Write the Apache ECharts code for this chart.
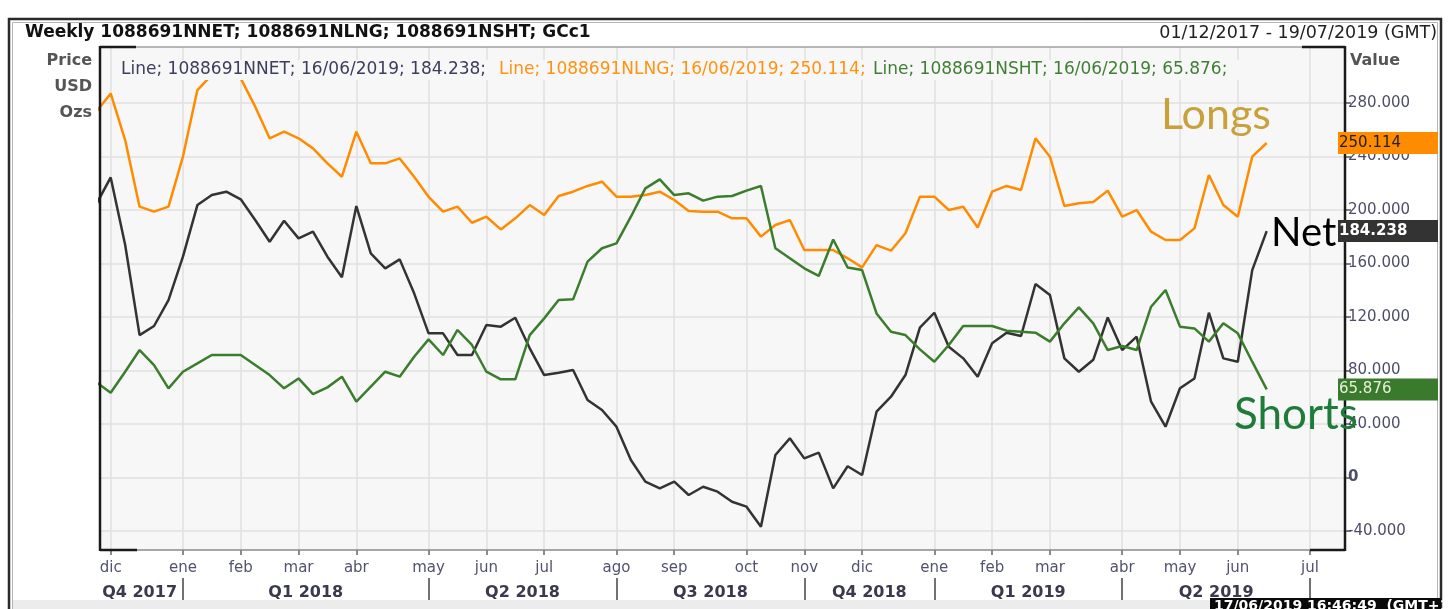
<!DOCTYPE html>
<html>
<head>
<meta charset="utf-8">
<script src="https://cdn.jsdelivr.net/npm/echarts@6/dist/echarts.min.js"></script>
<style>
  html, body { margin: 0; padding: 0; background: #ffffff; }
  #chart { width: 1453px; height: 609px; }
</style>
</head>
<body>
<div id="chart"></div>
<script>
// Weekly COT positions (thousand oz), one value per Sunday from 26/11/2017 to 16/06/2019.
// Week offsets are counted from 03/12/2017 (offset 0), so the first entry sits at offset -1.
const firstWeekOffset = -1;

const longs = [
  273.6, 287.2, 252.3, 202.5, 198.8, 202.5, 240.0, 289.7, 301.0, 302.0,
  298.4, 277.3, 253.6, 258.6, 253.6, 246.1, 234.9, 224.9, 258.6, 234.9,
  234.9, 238.6, 224.9, 209.9, 198.8, 202.5, 190.5, 195.0, 185.5, 193.8,
  203.7, 196.3, 210.5, 213.7, 218.0, 221.2, 210.0, 210.0, 211.2, 213.7,
  207.5, 199.3, 198.8, 198.8, 193.8, 193.8, 180.1, 188.8, 192.5, 170.1,
  170.1, 170.1, 163.9, 157.1, 173.8, 169.6, 182.6, 210.0, 210.0, 200.0,
  202.5, 187.0, 213.7, 218.0, 215.0, 253.6, 239.9, 203.0, 205.0, 206.0,
  214.5, 195.0, 200.0, 183.8, 177.6, 177.6, 186.3, 226.2, 203.7, 195.0,
  239.9, 250.114
];

const net = [
  204.3, 224.4, 174.0, 106.5, 113.3, 132.7, 165.1, 203.7, 211.2, 213.7,
  208.0, 192.5, 176.3, 192.0, 178.8, 183.8, 165.1, 149.7, 203.0, 167.6,
  156.4, 163.1, 137.7, 107.8, 107.8, 91.6, 91.6, 114.0, 112.8, 119.5,
  96.6, 76.6, 78.4, 80.4, 58.0, 50.5, 38.0, 13.1, -3.1, -8.1,
  -3.1, -13.1, -6.9, -10.6, -18.1, -21.8, -36.8, 16.8, 29.3, 14.3,
  18.6, -8.1, 8.4, 1.9, 49.2, 60.4, 76.6, 112.0, 123.2, 97.8,
  89.1, 75.4, 100.3, 108.3, 105.8, 144.7, 136.4, 89.1, 79.1, 88.0,
  119.7, 95.3, 105.3, 56.7, 38.0, 66.7, 74.1, 123.2, 89.1, 86.6,
  155.1, 184.238
];

const shorts = [
  71.2, 63.4, 79.1, 95.3, 84.1, 66.7, 79.1, 85.3, 91.6, 91.6,
  91.6, 84.1, 76.6, 66.7, 74.1, 62.4, 67.4, 75.4, 56.7, 67.9,
  79.1, 75.4, 90.3, 103.3, 91.6, 110.3, 99.1, 79.1, 73.4, 73.4,
  106.5, 119.0, 132.7, 133.2, 161.4, 171.4, 175.1, 195.0, 216.2, 222.9,
  211.2, 212.5, 207.0, 210.0, 210.5, 214.5, 218.0, 171.4, 163.9, 156.4,
  150.7, 178.0, 157.0, 155.1, 122.7, 109.0, 106.5, 95.8, 86.6, 99.1,
  113.3, 113.3, 113.3, 109.8, 109.0, 108.3, 101.6, 115.3, 127.2, 115.3,
  95.3, 98.3, 95.3, 127.7, 140.2, 112.8, 111.5, 101.6, 115.3, 107.8,
  86.6, 65.876
];

// Month ticks: week offset of the first Sunday of each month, with its Spanish label
const monthTickWeeks = [0, 5, 9, 13, 17, 22, 26, 30, 35, 39, 44, 48, 52, 57, 61, 65, 70, 74, 78, 83];
const monthLabels = ['dic', 'ene', 'feb', 'mar', 'abr', 'may', 'jun', 'jul', 'ago', 'sep',
                     'oct', 'nov', 'dic', 'ene', 'feb', 'mar', 'abr', 'may', 'jun', 'jul'];

// Quarter row: separators and label anchors (week offsets)
const quarterBounds = [5, 22, 35, 48, 57, 70, 83];
const quarterCenters = [2, 13.5, 28.5, 41.5, 52.5, 63.5, 76.5];
const quarterLabels = ['Q4 2017', 'Q1 2018', 'Q2 2018', 'Q3 2018', 'Q4 2018', 'Q1 2019', 'Q2 2019'];

// Value axis ticks
const valueTicks = [-40, 0, 40, 80, 120, 160, 200, 240, 280];

const seriesNames = ['1088691NNET', '1088691NLNG', '1088691NSHT'];
const lastDate = '16/06/2019';

const AXIS_FONT = 'DejaVu Sans';
const C_NET = '#333333';
const C_LONG = '#ff8c00';
const C_SHORT = '#3a7d2c';

const toXY = (arr) => arr.map((v, i) => [firstWeekOffset + i, v]);

const chart = echarts.init(document.getElementById('chart'), null, { renderer: 'canvas' });

const xMin = -0.74, xMax = 85.42;

const option = {
  backgroundColor: '#ffffff',
  animation: false,
  grid: {
    left: 100, right: 108, top: 47, bottom: 59,
    show: true, backgroundColor: '#f7f7f7', borderWidth: 0
  },
  xAxis: [
    {
      type: 'value', min: xMin, max: xMax, position: 'bottom',
      axisLine: { show: false, onZero: false },
      axisTick: { show: true, customValues: monthTickWeeks, length: 5, lineStyle: { color: '#666', width: 1.5 } },
      axisLabel: {
        customValues: monthTickWeeks, margin: 11, hideOverlap: false,
        color: '#52526e', fontFamily: AXIS_FONT, fontSize: 15,
        formatter: (v) => monthLabels[monthTickWeeks.indexOf(v)]
      },
      splitLine: { show: true, lineStyle: { color: '#e0e0e0', width: 1.5 } }
    },
    {
      type: 'value', min: xMin, max: xMax, position: 'bottom', offset: 28,
      axisLine: { show: false, onZero: false },
      axisTick: { show: true, customValues: quarterBounds, length: 24, lineStyle: { color: '#444', width: 1.5 } },
      axisLabel: {
        customValues: quarterCenters, margin: 7, hideOverlap: false,
        color: '#3a3a4e', fontFamily: AXIS_FONT, fontWeight: 'bold', fontSize: 16,
        formatter: (v) => quarterLabels[quarterCenters.indexOf(v)]
      },
      splitLine: { show: false }
    }
  ],
  yAxis: {
    type: 'value', position: 'right', min: -54.2, max: 321.9,
    axisLine: { show: false, onZero: false },
    axisTick: { show: true, customValues: valueTicks, length: 6, lineStyle: { color: '#555', width: 1.5 } },
    axisLabel: {
      customValues: valueTicks, margin: 3, hideOverlap: false,
      color: '#4d4d6b', fontFamily: AXIS_FONT, fontSize: 15,
      formatter: (v) => v === 0 ? '{z|0}' : v.toFixed(3),
      rich: { z: { fontWeight: 'bold', fontFamily: AXIS_FONT, fontSize: 15, color: '#4d4d6b' } }
    },
    splitLine: { show: true, lineStyle: { color: '#e0e0e0', width: 1.5 } }
  },
  series: [
    { name: seriesNames[0], type: 'line', data: toXY(net), showSymbol: false, clip: true,
      lineStyle: { color: C_NET, width: 2.5 }, z: 3 },
    { name: seriesNames[1], type: 'line', data: toXY(longs), showSymbol: false, clip: true,
      lineStyle: { color: C_LONG, width: 2.5 }, z: 3 },
    { name: seriesNames[2], type: 'line', data: toXY(shorts), showSymbol: false, clip: true,
      lineStyle: { color: C_SHORT, width: 2.5 }, z: 3 }
  ]
};

chart.setOption(option);

// Decorations: frame, headings, latest-value flags and series captions
function text(x, y, str, o) {
  return {
    type: 'text', z: 100, silent: true,
    style: Object.assign({
      x: x, y: y, text: str, fontFamily: AXIS_FONT, fontSize: 15, fill: '#222',
      align: 'left', verticalAlign: 'middle'
    }, o || {})
  };
}
function line(x1, y1, x2, y2, color, w) {
  return { type: 'line', z: 90, silent: true, shape: { x1, y1, x2, y2 }, style: { stroke: color, lineWidth: w } };
}

const fmt = (v) => v.toFixed(3);
const lastNet = net[net.length - 1];
const lastLong = longs[longs.length - 1];
const lastShort = shorts[shorts.length - 1];

const graphics = [];

// outer frame and footer band
graphics.push({ type: 'rect', z: 80, silent: true, shape: { x: 12, y: 600, width: 1428, height: 12 }, style: { fill: '#ececec' } });
graphics.push({ type: 'rect', z: 81, silent: true, shape: { x: 9, y: 19, width: 1432, height: 620 }, style: { fill: null, stroke: '#2a2a2a', lineWidth: 2.5 } });
graphics.push({ type: 'rect', z: 81, silent: true, shape: { x: 12.5, y: 22.5, width: 1425, height: 620 }, style: { fill: null, stroke: '#b5b5b5', lineWidth: 1 } });

// plot border
graphics.push(line(100, 47, 1345, 47, '#a0a0a0', 1.5));
graphics.push(line(100, 550, 1345, 550, '#8a8a8a', 1.5));
graphics.push(line(100, 47, 136, 47, '#1a1a1a', 2.5));
graphics.push(line(1302, 47, 1345, 47, '#1a1a1a', 2.5));
graphics.push(line(100, 550, 137, 550, '#1a1a1a', 2.5));
graphics.push(line(1310, 550, 1345, 550, '#1a1a1a', 2.5));
graphics.push(line(100, 46, 100, 551, '#1a1a1a', 2.5));
graphics.push(line(1345, 46, 1345, 551, '#1a1a1a', 2.5));

// headings
graphics.push(text(25, 33, 'Weekly ' + seriesNames.join('; ') + '; GCc1',
  { fontWeight: 'bold', fontSize: 17, fill: '#111' }));
graphics.push(text(1437, 33, '01/12/2017 - 19/07/2019 (GMT)', { fontSize: 17.5, fill: '#222', align: 'right' }));
graphics.push(text(92, 61, 'Price', { fontWeight: 'bold', fontSize: 16, fill: '#555', align: 'right' }));
graphics.push(text(92, 87, 'USD', { fontWeight: 'bold', fontSize: 16, fill: '#555', align: 'right' }));
graphics.push(text(92, 113, 'Ozs', { fontWeight: 'bold', fontSize: 16, fill: '#555', align: 'right' }));
graphics.push(text(1350, 61, 'Value', { fontWeight: 'bold', fontSize: 16, fill: '#555' }));

// latest-value legend line, on a band of the plot colour
graphics.push({ type: 'rect', z: 99, silent: true, shape: { x: 116, y: 60, width: 1125, height: 20 }, style: { fill: '#f7f7f7' } });
graphics.push(text(121, 70, 'Line; ' + seriesNames[0] + '; ' + lastDate + '; ' + fmt(lastNet) + ';', { fontSize: 17, fill: '#3d3d5c' }));
graphics.push(text(499, 70, 'Line; ' + seriesNames[1] + '; ' + lastDate + '; ' + fmt(lastLong) + ';', { fontSize: 17, fill: '#ff9210' }));
graphics.push(text(873, 70, 'Line; ' + seriesNames[2] + '; ' + lastDate + '; ' + fmt(lastShort) + ';', { fontSize: 17, fill: '#3f7f35' }));

// latest-value flags on the value axis
function flag(value, fill, color, bold) {
  const y = chart.convertToPixel({ yAxisIndex: 0 }, value);
  graphics.push({ type: 'rect', z: 95, silent: true, shape: { x: 1338, y: y - 11, width: 100, height: 22 }, style: { fill: fill } });
  graphics.push(text(1339, y, fmt(value), { fontSize: 15, fill: color, fontWeight: bold ? 'bold' : 'normal' }));
}
flag(lastLong, '#ff8c00', '#1e1e1e', false);
flag(lastNet, '#333333', '#ffffff', true);
flag(lastShort, '#3a7a2c', '#e6f2d8', false);

// series captions
graphics.push(text(1161, 115, 'Longs', { fontFamily: 'Lato', fontSize: 43, fill: '#c9a13c' }));
graphics.push(text(1271, 233, 'Net', { fontFamily: 'Lato', fontSize: 40, fill: '#000000' }));
graphics.push(text(1234, 415, 'Shorts', { fontFamily: 'Lato', fontSize: 44, fill: '#1e7b3a' }));

// timestamp tag, cut by the bottom edge
graphics.push({ type: 'rect', z: 96, silent: true, shape: { x: 1210, y: 598, width: 231, height: 12 }, style: { fill: '#0a0a0a' } });
graphics.push(text(1214, 606, '17/06/2019 16:46:49  (GMT+1)', { fontSize: 14, fontWeight: 'bold', fill: '#ffffff' }));

chart.setOption({ graphic: graphics });
</script>
</body>
</html>
